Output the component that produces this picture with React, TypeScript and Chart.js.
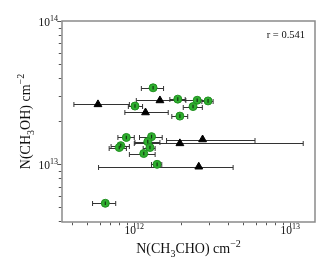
import React, { useEffect, useRef } from "react";
import { Chart, registerables } from "chart.js";

Chart.register(...registerables);

const greenX = [1.32e12, 1.90e12, 2.53e12, 2.97e12, 1.01e12, 2.38e12, 1.96e12, 8.89e11, 1.29e12, 1.22e12, 8.19e11, 8.01e11, 1.26e12, 1.15e12, 1.40e12, 6.52e11];
const greenY = [3.42e13, 2.85e13, 2.80e13, 2.77e13, 2.55e13, 2.53e13, 2.17e13, 1.54e13, 1.56e13, 1.44e13, 1.35e13, 1.31e13, 1.31e13, 1.19e13, 1.0e13, 5.35e12];
const greenXLo = [1.11e12, 1.69e12, 2.14e12, 2.71e12, 9.16e11, 2.06e12, 1.74e12, 7.85e11, 1.08e12, 1.01e12, 7.1e11, 6.9e11, 1.14e12, 9.3e11, 1.29e12, 5.4e11];
const greenXHi = [1.54e12, 2.12e12, 3.0e12, 3.2e12, 1.13e12, 2.73e12, 2.2e12, 1.0e12, 1.51e12, 1.46e12, 9.3e11, 8.9e11, 1.36e12, 1.36e12, 1.50e12, 7.6e11];

const triX = [5.85e11, 1.46e12, 1.18e12, 2.74e12, 1.96e12, 2.59e12];
const triY = [2.62e13, 2.79e13, 2.30e13, 1.49e13, 1.40e13, 9.62e12];
const triXLo = [4.1e11, 1.03e12, 8.7e11, 1.61e12, 1.0e12, 5.9e11];
const triXHi = [9.3e11, 2.44e12, 1.65e12, 5.94e12, 1.21e13, 4.3e12];

const xMin = 3.44e11, xMax = 1.44e13;
const yMin = 3.96e12, yMax = 1e14;
const xMajor = [{ base: "10", exp: "12", v: 1e12 }, { base: "10", exp: "13", v: 1e13 }];
const yMajor = [{ base: "10", exp: "13", v: 1e13 }, { base: "10", exp: "14", v: 1e14 }];
const rText = "r = 0.541";

const SERIF = "'Liberation Serif', 'DejaVu Serif', serif";
const FRAME = "#8a8a8a";

type Seg = { t: string; k: "n" | "sub" | "sup" };

function drawRich(ctx: CanvasRenderingContext2D, segs: Seg[], x: number, y: number, size: number, align: "center" | "right" | "left") {
  const small = Math.round(size * 0.7);
  const w = segs.map((s) => {
    ctx.font = `${s.k === "n" ? size : small}px ${SERIF}`;
    return ctx.measureText(s.t).width;
  });
  const total = w.reduce((a, b) => a + b, 0);
  let cx = align === "center" ? x - total / 2 : align === "right" ? x - total : x;
  ctx.textBaseline = "alphabetic";
  ctx.textAlign = "left";
  segs.forEach((s, i) => {
    ctx.font = `${s.k === "n" ? size : small}px ${SERIF}`;
    const dy = s.k === "sub" ? size * 0.25 : s.k === "sup" ? -size * 0.42 : 0;
    ctx.fillText(s.t, cx, y + dy);
    cx += w[i];
  });
}

const deco = {
  id: "deco",
  beforeDatasetsDraw(chart: any) {
    const { ctx, scales } = chart;
    const xs = scales.x, ys = scales.y;
    ctx.save();
    ctx.strokeStyle = "#333";
    ctx.lineWidth = 1;
    const bars = (X: number[], Y: number[], lo: number[], hi: number[]) => {
      for (let i = 0; i < X.length; i++) {
        const py = Math.round(ys.getPixelForValue(Y[i])) + 0.5;
        const p0 = xs.getPixelForValue(lo[i]);
        const p1 = xs.getPixelForValue(hi[i]);
        ctx.beginPath();
        ctx.moveTo(p0, py); ctx.lineTo(p1, py);
        ctx.moveTo(p0, py - 2.5); ctx.lineTo(p0, py + 2.5);
        ctx.moveTo(p1, py - 2.5); ctx.lineTo(p1, py + 2.5);
        ctx.stroke();
      }
    };
    bars(greenX, greenY, greenXLo, greenXHi);
    bars(triX, triY, triXLo, triXHi);
    ctx.restore();
  },
  afterDatasetsDraw(chart: any) {
    const { ctx, chartArea: a, scales } = chart;
    const xs = scales.x, ys = scales.y;
    ctx.save();
    ctx.strokeStyle = "#143814";
    ctx.lineWidth = 1.2;
    for (let i = 0; i < greenX.length; i++) {
      const px = xs.getPixelForValue(greenX[i]);
      const py = ys.getPixelForValue(greenY[i]);
      ctx.beginPath();
      ctx.moveTo(px, py - 1.8); ctx.lineTo(px, py + 1.8);
      ctx.stroke();
    }
    ctx.strokeStyle = FRAME;
    ctx.lineWidth = 1.5;
    ctx.strokeRect(a.left, a.top, a.right - a.left, a.bottom - a.top);
    ctx.lineWidth = 1;
    ctx.strokeStyle = "#555";
    for (let e = 11; e <= 13; e++) {
      for (let m = 1; m <= 9; m++) {
        const v = m * Math.pow(10, e);
        if (v < xMin || v > xMax) continue;
        const px = Math.round(xs.getPixelForValue(v)) + 0.5;
        const len = m === 1 ? 4 : 2.5;
        ctx.beginPath();
        ctx.moveTo(px, a.bottom + 0.75); ctx.lineTo(px, a.bottom + 0.75 + len);
        ctx.stroke();
      }
    }
    for (let e = 12; e <= 14; e++) {
      for (let m = 1; m <= 9; m++) {
        const v = m * Math.pow(10, e);
        if (v < yMin || v > yMax) continue;
        const py = Math.round(ys.getPixelForValue(v)) + 0.5;
        const len = m === 1 ? 4 : 2.5;
        ctx.beginPath();
        ctx.moveTo(a.left - 0.75, py); ctx.lineTo(a.left - 0.75 - len, py);
        ctx.stroke();
      }
    }
    ctx.fillStyle = "#111";
    xMajor.forEach((t) => {
      const px = xs.getPixelForValue(t.v);
      drawRich(ctx, [{ t: t.base, k: "n" }, { t: t.exp, k: "sup" }], px, a.bottom + 12, 11.5, "center");
    });
    yMajor.forEach((t) => {
      const py = ys.getPixelForValue(t.v);
      drawRich(ctx, [{ t: t.base, k: "n" }, { t: t.exp, k: "sup" }], a.left - 4, py + 4.5, 11.5, "right");
    });
    drawRich(ctx, [
      { t: "N(CH", k: "n" }, { t: "3", k: "sub" }, { t: "CHO) cm", k: "n" }, { t: "\u22122", k: "sup" },
    ], (a.left + a.right) / 2, 253, 14, "center");
    ctx.save();
    ctx.translate(30, (a.top + a.bottom) / 2);
    ctx.rotate(-Math.PI / 2);
    drawRich(ctx, [
      { t: "N(CH", k: "n" }, { t: "3", k: "sub" }, { t: "OH) cm", k: "n" }, { t: "\u22122", k: "sup" },
    ], 0, 0, 14, "center");
    ctx.restore();
    ctx.font = `10.5px ${SERIF}`;
    ctx.textAlign = "right";
    ctx.textBaseline = "alphabetic";
    ctx.fillText(rText, a.right - 10, a.top + 17);
    ctx.restore();
  },
};

export default function App() {
  const ref = useRef<HTMLCanvasElement>(null);
  useEffect(() => {
    document.body.style.margin = "0";
    const chart = new Chart(ref.current!, {
      type: "scatter",
      data: {
        datasets: [
          {
            label: "green",
            data: greenX.map((x, i) => ({ x, y: greenY[i] })),
            backgroundColor: "#2fae2f",
            borderColor: "#1f8f1f",
            borderWidth: 1,
            pointRadius: 4,
            pointStyle: "circle",
          },
          {
            label: "tri",
            data: triX.map((x, i) => ({ x, y: triY[i] })),
            backgroundColor: "#000",
            borderColor: "#000",
            borderWidth: 1,
            pointRadius: 4.5,
            pointStyle: "triangle",
          },
        ],
      },
      options: {
        animation: false,
        responsive: false,
        layout: { padding: { top: 21, right: 18, left: 0, bottom: 0 } },
        plugins: { legend: { display: false }, tooltip: { enabled: false } },
        scales: {
          x: {
            type: "logarithmic",
            min: xMin,
            max: xMax,
            grid: { display: false },
            border: { display: false },
            ticks: { display: false },
            afterFit: (s: any) => { s.height = 54; },
          },
          y: {
            type: "logarithmic",
            min: yMin,
            max: yMax,
            grid: { display: false },
            border: { display: false },
            ticks: { display: false },
            afterFit: (s: any) => { s.width = 62; },
          },
        },
      },
      plugins: [deco],
    } as any);
    return () => chart.destroy();
  }, []);
  return (
    <div style={{ width: 333, height: 276 }}>
      <canvas ref={ref} width={333} height={276} style={{ display: "block" }} />
    </div>
  );
}
